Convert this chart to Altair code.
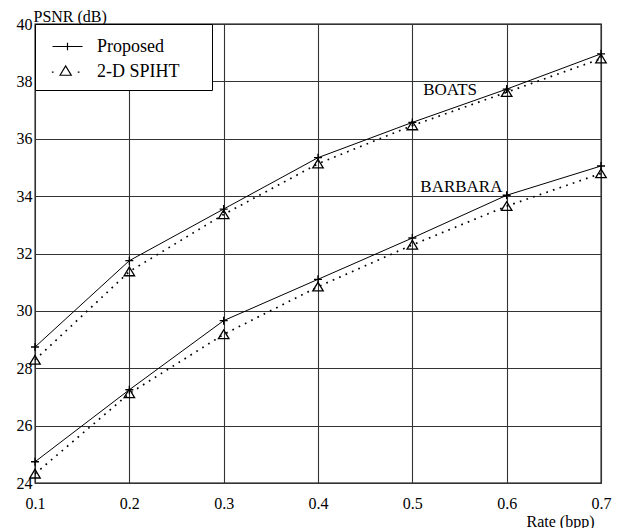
import altair as alt
import pandas as pd

# ---- data ----
rates = [0.1, 0.2, 0.3, 0.4, 0.5, 0.6, 0.7]
boats_proposed = [28.74, 31.75, 33.55, 35.34, 36.57, 37.73, 38.96]
boats_spiht = [28.29, 31.37, 33.36, 35.13, 36.46, 37.62, 38.79]
barbara_proposed = [24.74, 27.25, 29.66, 31.10, 32.54, 34.03, 35.05]
barbara_spiht = [24.32, 27.12, 29.18, 30.84, 32.30, 33.65, 34.79]

methods = ["Proposed", "2-D SPIHT"]
images = ["BOATS", "BARBARA"]
label_x = [0.540, 0.552]
label_y = [37.70, 34.33]

x_ticks = [0.1, 0.2, 0.3, 0.4, 0.5, 0.6, 0.7]
y_ticks = [24, 26, 28, 30, 32, 34, 36, 38, 40]

rows = []
for img, series in [("BOATS", (boats_proposed, boats_spiht)),
                    ("BARBARA", (barbara_proposed, barbara_spiht))]:
    for m, vals in zip(methods, series):
        for r, v in zip(rates, vals):
            rows.append({"rate": r, "psnr": v, "image": img, "method": m})
df = pd.DataFrame(rows)
labels = pd.DataFrame({"x": label_x, "y": label_y, "text": images})

FONT = "Liberation Serif"

xs = alt.Scale(domain=[0.1, 0.7], nice=False, zero=False)
ys = alt.Scale(domain=[24, 40], nice=False, zero=False)

x_axis = alt.Axis(values=x_ticks, format=".1f", title="Rate (bpp)", grid=True,
                  gridColor="#333333", gridWidth=1.1, gridOpacity=1,
                  domain=False, ticks=False, labelPadding=12,
                  labelFont=FONT, labelFontSize=16, labelColor="black",
                  titleFont=FONT, titleFontSize=16, titleFontWeight="normal",
                  titleColor="black", titleAlign="right", titleBaseline="middle",
                  titleX=559, titleY=38, labelFlush=False)
y_axis = alt.Axis(values=y_ticks, format="d", title="PSNR (dB)", grid=True,
                  gridColor="#333333", gridWidth=1.1, gridOpacity=1,
                  domain=False, ticks=False, labelPadding=3,
                  labelFont=FONT, labelFontSize=16, labelColor="black",
                  titleFont=FONT, titleFontSize=16, titleFontWeight="normal",
                  titleColor="black", titleAngle=0, titleAlign="left",
                  titleBaseline="top", titleX=-2, titleY=-16, labelFlush=False)

base = alt.Chart(df)

line_prop = base.transform_filter(alt.datum.method == "Proposed").mark_line(
    color="black", strokeWidth=1
).encode(
    x=alt.X("rate:Q", scale=xs, axis=x_axis),
    y=alt.Y("psnr:Q", scale=ys, axis=y_axis),
    detail="image:N",
)

line_spiht = base.transform_filter(alt.datum.method == "2-D SPIHT").mark_line(
    color="black", strokeWidth=1.7, strokeDash=[1.7, 5.3]
).encode(
    x=alt.X("rate:Q", scale=xs),
    y=alt.Y("psnr:Q", scale=ys),
    detail="image:N",
)

PLUS = "M-1,0H1M0,-1V1"
TRI = "M0,-0.85L1,0.8L-1,0.8Z"
LEG_PLUS = "M-1.2,0H1.2M0,-0.3V0.3"
LEG_TRI = ("M-0.6,0.3L-0.15,-0.45L0.3,0.3Z"
           "M-1.25,0.05h0.14M0.82,0.05h0.14")

points = base.mark_point(filled=False, strokeWidth=1.3, opacity=1).encode(
    x=alt.X("rate:Q", scale=xs),
    y=alt.Y("psnr:Q", scale=ys),
    shape=alt.Shape("method:N", scale=alt.Scale(domain=methods, range=[PLUS, TRI]),
                    legend=None),
    size=alt.Size("method:N", scale=alt.Scale(domain=methods, range=[64, 110]),
                  legend=None),
    color=alt.value("black"),
)

legend = alt.Legend(
    orient="none", legendX=0, legendY=0,
    title=".", titleOrient="right", titleOpacity=0, titleFontSize=10,
    titlePadding=20,
    fillColor="white", strokeColor="black", padding=9,
    symbolSize=625, symbolOffset=10, labelOffset=16, rowPadding=2,
    labelFont=FONT, labelFontSize=18, labelColor="black",
    symbolStrokeColor="black", symbolStrokeWidth=1.2,
    symbolFillColor="transparent", symbolOpacity=1,
)

legend_layer = base.transform_filter("false").mark_point(
    filled=False, size=625, strokeWidth=1.2
).encode(
    x=alt.X("rate:Q", scale=xs),
    y=alt.Y("psnr:Q", scale=ys),
    shape=alt.Shape("method:N",
                    scale=alt.Scale(domain=methods, range=[LEG_PLUS, LEG_TRI]),
                    legend=legend),
    color=alt.value("black"),
)

text = alt.Chart(labels).mark_text(font=FONT, fontSize=17, color="black",
                                   align="center", baseline="middle").encode(
    x=alt.X("x:Q", scale=xs),
    y=alt.Y("y:Q", scale=ys),
    text="text:N",
)

chart = alt.layer(line_prop, line_spiht, points, text, legend_layer).resolve_scale(
    shape="independent", size="independent"
).properties(
    width=566, height=459,
    padding={"left": 27, "top": 16, "right": 17, "bottom": 52},
    autosize=alt.AutoSizeParams(type="none"),
    background="white",
).configure_view(stroke="black", strokeWidth=1.3)

chart.save("out.html", embed_options={"renderer": "svg", "actions": False})
